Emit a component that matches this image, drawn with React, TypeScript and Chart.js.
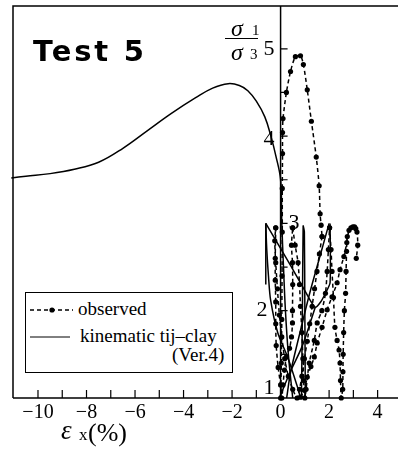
import { useEffect, useRef } from "react";
import { Chart, registerables } from "chart.js";

Chart.register(...registerables);

// ---- tick labels ----
const xTickLabels = [-10, -8, -6, -4, -2, 0, 2, 4];
const xMinorTicks = [-10, -9, -8, -7, -6, -5, -4, -3, -2, -1, 0, 1, 2, 3, 4];
const yTickLabels = [1, 2, 3, 4, 5];
const yMinorTicks = [1.5, 2, 2.5, 3, 3.5, 4, 4.5, 5];

// ---- observed (dashed with dots) ----
const obsLoading: number[][] = [
  [0.0, 1.0], [0.03, 1.4], [0.05, 1.9], [0.06, 2.4], [0.07, 2.9], [0.07, 3.4], [0.08, 3.8],
  [0.08, 4.04], [0.1, 4.2], [0.24, 4.5], [0.41, 4.74], [0.61, 4.91], [0.82, 4.92], [0.94, 4.82],
  [1.1, 4.53], [1.27, 4.17], [1.47, 3.76], [1.59, 3.43], [1.63, 3.11], [1.67, 2.98], [1.71, 2.85],
];
const obsCycle1: number[][] = [
  [1.71, 2.85], [1.6, 2.65], [1.5, 2.45], [1.4, 2.25], [1.3, 2.05], [1.2, 1.85], [1.1, 1.65], [0.98, 1.45],
  [0.88, 1.25], [0.78, 1.1], [0.68, 1.0], [0.5, 1.1], [0.32, 1.25], [0.17, 1.45], [0.05, 1.7],
  [-0.05, 1.95], [-0.13, 2.25], [-0.2, 2.55], [-0.24, 2.8], [-0.2, 2.95],
];
const obsCycle2: number[][] = [
  [-0.2, 2.95], [-0.22, 2.6], [-0.22, 2.35], [-0.2, 2.1], [-0.2, 1.85], [-0.18, 1.6], [-0.1, 1.35],
  [0.0, 1.15], [0.05, 1.0], [0.1, 1.15], [0.16, 1.32], [0.24, 1.47], [0.37, 1.57], [0.45, 1.7],
  [0.49, 1.86], [0.49, 2.0], [0.5, 2.3], [0.49, 2.55], [0.45, 2.75], [0.5, 2.95],
];
const obsCycle3: number[][] = [
  [0.5, 2.95], [0.6, 2.75], [0.72, 2.55], [0.78, 2.3], [0.82, 2.05], [0.88, 1.75], [0.92, 1.45],
  [0.95, 1.2], [1.0, 1.0], [1.05, 1.1], [1.18, 1.4], [1.39, 1.66], [1.51, 1.86], [1.7, 2.0],
  [1.85, 2.2], [1.92, 2.45], [1.97, 2.7], [2.02, 2.95],
];
const obsCycle4: number[][] = [
  [2.02, 2.95], [2.08, 2.7], [2.12, 2.45], [2.18, 2.15], [2.24, 1.81], [2.33, 1.66], [2.41, 1.55],
  [2.45, 1.4], [2.47, 1.2], [2.5, 1.0], [2.56, 1.1], [2.57, 1.3], [2.58, 1.5], [2.6, 1.75],
  [2.63, 2.0], [2.68, 2.2], [2.7, 2.45], [2.72, 2.68], [2.75, 2.85], [2.9, 2.95], [3.05, 2.96],
  [3.15, 2.9], [3.18, 2.75], [3.12, 2.6],
];
const obsCycle5: number[][] = [
  [0.82, 1.01], [0.98, 1.09], [1.1, 1.24], [1.25, 1.36], [1.39, 1.47], [1.51, 1.63], [1.71, 1.81],
  [1.92, 2.01], [2.12, 2.16], [2.33, 2.32], [2.45, 2.47], [2.61, 2.62], [2.73, 2.78], [2.82, 2.92],
  [2.98, 2.96], [3.1, 2.94],
];

// ---- kinematic tij-clay (solid) ----
const simMonotonic: number[][] = [
  [-11.1, 3.52], [-10.5, 3.54], [-9.5, 3.57], [-8.5, 3.62], [-7.5, 3.7], [-6.5, 3.86], [-5.5, 4.06],
  [-4.5, 4.26], [-3.5, 4.44], [-2.8, 4.55], [-2.16, 4.6], [-1.7, 4.58], [-1.35, 4.52], [-1.0, 4.4],
  [-0.65, 4.22], [-0.4, 4.0], [-0.2, 3.78], [0.0, 3.5], [0.05, 3.0], [0.12, 2.5], [0.2, 2.0],
  [0.32, 1.5], [0.5, 1.0],
];
const simLeftU: number[][] = [
  [-0.61, 3.0], [-0.57, 2.7], [-0.5, 2.4], [-0.41, 2.12], [-0.12, 1.75], [0.29, 1.47], [0.69, 1.13], [0.82, 1.0],
];
const simLeftEdge: number[][] = [[-0.61, 2.3], [-0.61, 3.0]];
const simDiagonalV: number[][] = [
  [-0.61, 3.0], [0.41, 2.52], [1.2, 2.13], [1.43, 2.04], [1.65, 2.1], [1.85, 2.2], [2.04, 2.32], [2.04, 3.0],
];
const simHairpin: number[][] = [
  [0.86, 1.0], [0.9, 2.0], [0.93, 2.97], [0.98, 2.9], [1.0, 2.0], [1.02, 1.0],
];
const simRising: number[][] = [
  [0.25, 1.0], [0.41, 1.29], [0.8, 1.75], [1.2, 2.2], [1.6, 2.6], [2.0, 3.0],
];
const simCross: number[][] = [[-0.05, 1.0], [0.4, 1.3], [0.9, 1.6], [1.43, 2.04]];

const toXY = (arr: number[][]) => arr.map(([x, y]) => ({ x, y }));

const SERIF = '"Liberation Serif", "Times New Roman", serif';

const framePlugin = {
  id: "frame",
  beforeDatasetsDraw(chart: any) {
    const { ctx, chartArea: a, scales } = chart;
    const x = scales.x;
    const y = scales.y;
    const x0 = x.getPixelForValue(0);
    ctx.save();
    ctx.strokeStyle = "#000";
    ctx.lineWidth = 1.5;
    ctx.beginPath();
    ctx.moveTo(a.left, a.bottom);
    ctx.lineTo(a.left, a.top);
    ctx.lineTo(a.right, a.top);
    ctx.moveTo(a.left, a.bottom);
    ctx.lineTo(a.right, a.bottom);
    ctx.moveTo(x0, a.top);
    ctx.lineTo(x0, a.bottom);
    ctx.stroke();
    ctx.lineWidth = 1.2;
    ctx.beginPath();
    for (const v of xMinorTicks) {
      const px = x.getPixelForValue(v);
      ctx.moveTo(px, a.bottom);
      ctx.lineTo(px, a.bottom - 8);
    }
    for (const v of yMinorTicks) {
      const py = y.getPixelForValue(v);
      ctx.moveTo(x0, py);
      ctx.lineTo(x0 + 7, py);
    }
    ctx.stroke();
    ctx.fillStyle = "#000";
    ctx.font = `20px ${SERIF}`;
    ctx.textAlign = "center";
    ctx.textBaseline = "alphabetic";
    for (const v of xTickLabels) {
      const t = v < 0 ? "\u2212" + Math.abs(v) : String(v);
      ctx.fillText(t, x.getPixelForValue(v), a.bottom + 20);
    }
    ctx.font = `22px ${SERIF}`;
    ctx.textBaseline = "middle";
    for (const v of yTickLabels) {
      let py = y.getPixelForValue(v);
      if (v === 1) py -= 10;
      if (v === 4) py += 3;
      if (v === 3) {
        ctx.textAlign = "left";
        ctx.fillText(String(v), x0 + 8, py);
      } else {
        ctx.textAlign = "right";
        ctx.fillText(String(v), x0 - (v === 2 ? 13 : 6), py);
      }
    }
    ctx.restore();
  },
};

export default function App() {
  const ref = useRef<HTMLCanvasElement | null>(null);

  useEffect(() => {
    if (!ref.current) return;
    const obsStyle = {
      borderColor: "#000",
      backgroundColor: "#000",
      borderWidth: 1.5,
      borderDash: [4, 3],
      pointRadius: 2.6,
      pointBackgroundColor: "#000",
      pointBorderWidth: 0,
      showLine: true,
      tension: 0.25,
      clip: 4,
    };
    const simStyle = {
      borderColor: "#000",
      backgroundColor: "#000",
      borderWidth: 1.5,
      pointRadius: 0,
      showLine: true,
      tension: 0.3,
      clip: 2,
    };
    const chart = new Chart(ref.current, {
      type: "scatter",
      data: {
        datasets: [
          { label: "kinematic tij-clay", data: toXY(simMonotonic), ...simStyle, tension: 0.4 },
          { label: "sim-u", data: toXY(simLeftU), ...simStyle },
          { label: "sim-edge", data: toXY(simLeftEdge), ...simStyle, tension: 0 },
          { label: "sim-v", data: toXY(simDiagonalV), ...simStyle, tension: 0.2 },
          { label: "sim-h", data: toXY(simHairpin), ...simStyle, tension: 0.2 },
          { label: "sim-r", data: toXY(simRising), ...simStyle },
          { label: "sim-c", data: toXY(simCross), ...simStyle },
          { label: "observed", data: toXY(obsLoading), ...obsStyle },
          { label: "obs-1", data: toXY(obsCycle1), ...obsStyle },
          { label: "obs-2", data: toXY(obsCycle2), ...obsStyle },
          { label: "obs-3", data: toXY(obsCycle3), ...obsStyle },
          { label: "obs-4", data: toXY(obsCycle4), ...obsStyle },
          { label: "obs-5", data: toXY(obsCycle5), ...obsStyle },
        ] as any,
      },
      options: {
        responsive: false,
        animation: false,
        layout: { padding: { left: 13, top: 6, right: 0, bottom: 54 } },
        scales: {
          x: { type: "linear", min: -11.03, max: 4.84, display: false },
          y: { type: "linear", min: 1, max: 5.49, display: false },
        },
        plugins: { legend: { display: false }, tooltip: { enabled: false } },
      },
      plugins: [framePlugin],
    });
    return () => chart.destroy();
  }, []);

  const abs = (o: any): any => ({ position: "absolute", margin: 0, whiteSpace: "nowrap", color: "#000", ...o });

  return (
    <div style={{ position: "fixed", left: 0, top: 0, width: 402, height: 452, background: "#fff" }}>
      <canvas ref={ref} width={402} height={452} style={{ position: "absolute", left: 0, top: 0 }} />
      <div style={abs({ left: 33, top: 37, fontFamily: '"DejaVu Sans", sans-serif', fontWeight: "bold", fontSize: 29, lineHeight: "29px", letterSpacing: 2.8 })}>
        Test 5
      </div>
      {/* y-axis title: sigma1 / sigma3 */}
      <div style={abs({ left: 231, top: 16, fontFamily: SERIF, fontStyle: "italic", fontSize: 24, lineHeight: "24px" })}>σ</div>
      <div style={abs({ left: 252, top: 23, fontFamily: SERIF, fontSize: 15, lineHeight: "15px" })}>1</div>
      <div style={abs({ left: 225, top: 37.5, width: 33, height: 1.5, background: "#000" })} />
      <div style={abs({ left: 231, top: 40, fontFamily: SERIF, fontStyle: "italic", fontSize: 24, lineHeight: "24px" })}>σ</div>
      <div style={abs({ left: 250, top: 47, fontFamily: SERIF, fontSize: 15, lineHeight: "15px" })}>3</div>
      {/* x-axis title */}
      <div style={abs({ left: 61, top: 417, fontFamily: SERIF, fontStyle: "italic", fontSize: 27, lineHeight: "27px" })}>ε</div>
      <div style={abs({ left: 79, top: 426, fontFamily: SERIF, fontSize: 17, lineHeight: "17px" })}>x</div>
      <div style={abs({ left: 88, top: 420, fontFamily: SERIF, fontSize: 26, lineHeight: "26px" })}>(%)</div>
      {/* legend */}
      <div style={abs({ left: 25, top: 292, width: 206, height: 79, border: "1.5px solid #000", background: "#fff" })} />
      <svg width={402} height={452} style={{ position: "absolute", left: 0, top: 0, pointerEvents: "none" }}>
        <line x1={30} y1={310} x2={73} y2={310} stroke="#000" strokeWidth={1.5} strokeDasharray="4 3" />
        <circle cx={52} cy={310} r={2.6} fill="#000" />
        <line x1={30} y1={337} x2={70} y2={337} stroke="#000" strokeWidth={1} />
      </svg>
      <div style={abs({ left: 78, top: 299, fontFamily: SERIF, fontSize: 19, lineHeight: "19px" })}>observed</div>
      <div style={abs({ left: 80, top: 326, fontFamily: SERIF, fontSize: 19, lineHeight: "19px" })}>kinematic tij–clay</div>
      <div style={abs({ left: 172, top: 345, fontFamily: SERIF, fontSize: 19, lineHeight: "19px" })}>(Ver.4)</div>
    </div>
  );
}
